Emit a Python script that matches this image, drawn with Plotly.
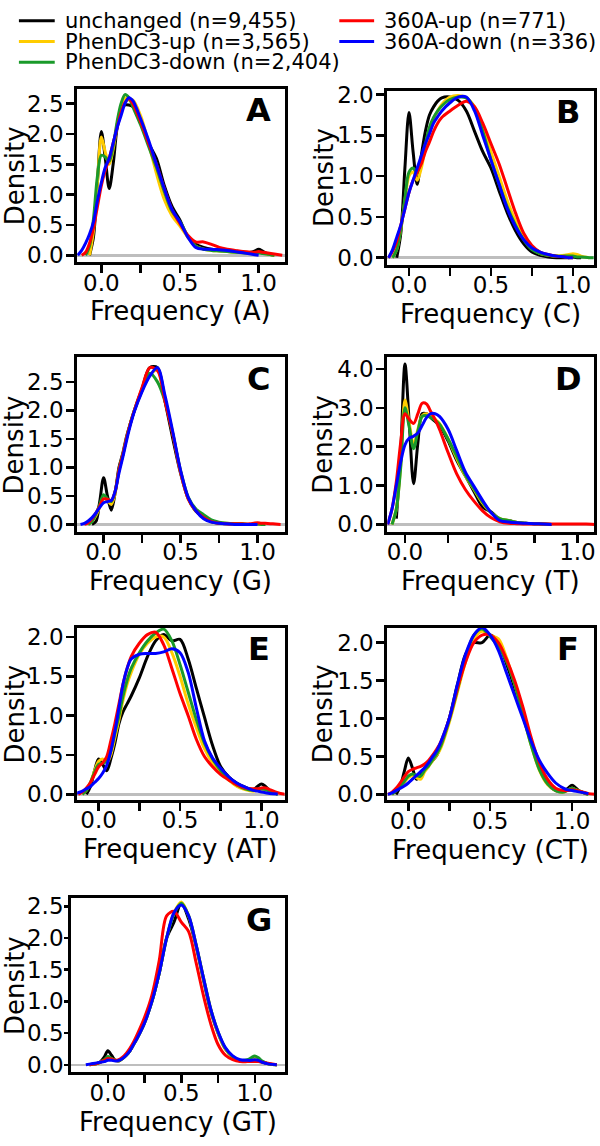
import plotly.graph_objects as go

# ---------------- data ----------------
X = [-0.15, -0.125, -0.1, -0.075, -0.05, -0.025, 0, 0.025, 0.05, 0.075, 0.1, 0.125, 0.15, 0.175, 0.2,
     0.25, 0.3, 0.35, 0.4, 0.45, 0.5, 0.55, 0.6, 0.65, 0.7, 0.75, 0.8, 0.85, 0.9, 0.95, 0.975, 1.0,
     1.025, 1.05, 1.1, 1.15]
N = None

SERIES = ["unchanged (n=9,455)", "PhenDC3-up (n=3,565)", "PhenDC3-down (n=2,404)",
          "360A-up (n=771)", "360A-down (n=336)"]
COLORS = ["#000000", "#FFCC00", "#1A9A2A", "#FF0000", "#0000FF"]

# Panel A: Frequency (A)
A_unchanged = [N, N, N, 0.0, 0.3, 1.2, 2.04, 1.6, 1.1, 1.5, 2.1, 2.4, 2.48, 2.48, 2.45, 2.2, 1.85, 1.6, 1.15, 0.8, 0.58, 0.3, 0.18, 0.13, 0.1, 0.09, 0.08, 0.07, 0.05, 0.05, 0.07, 0.1, 0.07, 0.03, 0.0, N]
A_phen_up = [N, N, N, 0.0, 0.4, 1.2, 1.95, 1.7, 1.5, 1.75, 2.15, 2.45, 2.6, 2.56, 2.56, 2.3, 1.85, 1.35, 0.92, 0.65, 0.48, 0.3, 0.15, 0.1, 0.08, 0.07, 0.06, 0.05, 0.04, 0.03, 0.04, 0.05, 0.04, 0.02, 0.0, N]
A_phen_down = [N, N, 0.0, 0.15, 0.6, 1.3, 1.65, 1.62, 1.55, 1.8, 2.2, 2.5, 2.65, 2.6, 2.45, 2.15, 1.8, 1.45, 1.05, 0.72, 0.55, 0.32, 0.15, 0.1, 0.08, 0.07, 0.06, 0.05, 0.04, 0.03, 0.03, 0.04, 0.03, 0.02, 0.0, N]
A_a360_up = [N, 0.0, 0.05, 0.2, 0.45, 0.8, 1.15, 1.4, 1.6, 1.85, 2.1, 2.35, 2.52, 2.58, 2.5, 2.2, 1.85, 1.5, 1.1, 0.75, 0.52, 0.33, 0.22, 0.22, 0.18, 0.13, 0.1, 0.08, 0.06, 0.05, 0.05, 0.06, 0.05, 0.04, 0.02, 0.0]
A_a360_down = [0.0, 0.08, 0.2, 0.35, 0.55, 0.9, 1.2, 1.45, 1.6, 1.85, 2.1, 2.3, 2.5, 2.6, 2.55, 2.25, 1.9, 1.5, 1.1, 0.75, 0.55, 0.3, 0.13, 0.1, 0.1, 0.09, 0.08, 0.06, 0.04, 0.02, 0.01, 0.0, N, N, N, N]

# Panel B: Frequency (C)
B_unchanged = [N, N, N, 0.0, 0.3, 1.1, 1.78, 1.3, 0.9, 1.25, 1.55, 1.75, 1.85, 1.92, 1.96, 1.97, 1.93, 1.8, 1.55, 1.3, 1.1, 0.82, 0.55, 0.33, 0.17, 0.07, 0.03, 0.01, 0.0, 0.0, 0.0, 0.01, 0.0, 0.0, N, N]
B_phen_up = [N, N, 0.0, 0.1, 0.35, 0.7, 1.0, 1.05, 0.95, 1.1, 1.35, 1.55, 1.7, 1.8, 1.88, 1.97, 1.99, 1.96, 1.85, 1.6, 1.3, 1.0, 0.7, 0.45, 0.25, 0.12, 0.05, 0.03, 0.02, 0.03, 0.04, 0.05, 0.04, 0.02, 0.0, N]
B_phen_down = [N, N, 0.0, 0.1, 0.35, 0.72, 1.05, 1.1, 1.05, 1.2, 1.4, 1.6, 1.72, 1.8, 1.86, 1.94, 1.97, 1.96, 1.83, 1.55, 1.2, 0.9, 0.62, 0.4, 0.22, 0.1, 0.05, 0.03, 0.02, 0.02, 0.02, 0.02, 0.01, 0.01, 0.0, 0.0]
B_a360_up = [N, 0.0, 0.08, 0.2, 0.4, 0.6, 0.8, 0.95, 1.05, 1.15, 1.3, 1.42, 1.55, 1.65, 1.72, 1.8, 1.87, 1.92, 1.85, 1.65, 1.4, 1.15, 0.85, 0.55, 0.3, 0.15, 0.07, 0.04, 0.02, 0.01, 0.0, 0.0, N, N, N, N]
B_a360_down = [N, 0.0, 0.1, 0.25, 0.4, 0.6, 0.8, 0.95, 1.1, 1.25, 1.4, 1.52, 1.65, 1.73, 1.8, 1.9, 1.97, 1.97, 1.8, 1.5, 1.2, 0.9, 0.6, 0.38, 0.22, 0.12, 0.07, 0.04, 0.02, 0.01, 0.0, 0.0, N, N, N, N]

# Panel C: Frequency (G)
C_unchanged = [N, N, N, 0.0, 0.05, 0.4, 0.82, 0.5, 0.25, 0.55, 1.0, 1.25, 1.55, 1.78, 2.0, 2.38, 2.75, 2.75, 2.15, 1.5, 0.9, 0.45, 0.23, 0.12, 0.05, 0.02, 0.01, 0.01, 0.0, 0.0, 0.0, 0.01, 0.0, 0.0, N, N]
C_phen_up = [N, N, 0.0, 0.05, 0.15, 0.3, 0.45, 0.42, 0.35, 0.55, 0.95, 1.22, 1.52, 1.78, 2.0, 2.35, 2.62, 2.7, 2.2, 1.6, 0.92, 0.45, 0.24, 0.13, 0.06, 0.03, 0.02, 0.01, 0.01, 0.0, 0.0, 0.01, 0.0, 0.0, N, N]
C_phen_down = [N, N, 0.0, 0.05, 0.18, 0.35, 0.52, 0.45, 0.4, 0.58, 0.95, 1.22, 1.52, 1.78, 2.0, 2.35, 2.65, 2.5, 2.15, 1.58, 0.95, 0.48, 0.27, 0.17, 0.08, 0.04, 0.02, 0.01, 0.01, 0.0, 0.0, 0.01, 0.0, 0.0, N, N]
C_a360_up = [N, 0.0, 0.03, 0.1, 0.2, 0.32, 0.45, 0.44, 0.42, 0.58, 0.95, 1.22, 1.52, 1.78, 2.0, 2.4, 2.75, 2.7, 2.15, 1.58, 0.92, 0.45, 0.24, 0.12, 0.05, 0.02, 0.01, 0.01, 0.01, 0.01, 0.02, 0.03, 0.02, 0.02, 0.01, 0.0]
C_a360_down = [0.0, 0.02, 0.06, 0.12, 0.2, 0.3, 0.38, 0.4, 0.42, 0.58, 0.9, 1.18, 1.48, 1.75, 1.98, 2.33, 2.6, 2.75, 2.25, 1.62, 0.95, 0.47, 0.24, 0.1, 0.04, 0.02, 0.01, 0.0, 0.0, 0.0, 0.0, 0.0, N, N, N, N]

# Panel D: Frequency (T)
D_unchanged = [N, N, N, N, 0.15, 1.8, 4.13, 2.6, 1.05, 2.1, 2.85, 2.85, 2.75, 2.65, 2.55, 2.15, 1.65, 1.25, 0.85, 0.45, 0.32, 0.13, 0.1, 0.05, 0.03, 0.02, 0.01, 0.0, N, N, N, N, N, N, N, N]
D_phen_up = [N, N, N, 0.0, 0.4, 1.5, 3.2, 2.6, 2.05, 2.45, 2.8, 2.85, 2.78, 2.7, 2.6, 2.2, 1.7, 1.25, 0.9, 0.55, 0.3, 0.15, 0.1, 0.05, 0.03, 0.02, 0.01, 0.0, N, N, N, N, N, N, N, N]
D_phen_down = [N, N, N, 0.0, 0.4, 1.45, 3.0, 2.5, 1.95, 2.4, 2.78, 2.8, 2.75, 2.68, 2.58, 2.2, 1.75, 1.28, 0.92, 0.58, 0.3, 0.15, 0.1, 0.05, 0.03, 0.02, 0.01, 0.0, N, N, N, N, N, N, N, N]
D_a360_up = [N, N, 0.0, 0.4, 1.1, 2.1, 2.85, 2.7, 2.6, 2.85, 3.12, 3.1, 2.9, 2.7, 2.45, 1.85, 1.3, 0.9, 0.6, 0.35, 0.17, 0.07, 0.03, 0.02, 0.01, 0.01, 0.01, 0.01, 0.01, 0.01, 0.01, 0.01, 0.01, 0.01, 0.0, N]
D_a360_down = [N, N, 0.0, 0.4, 1.0, 1.6, 2.05, 2.22, 2.27, 2.35, 2.55, 2.75, 2.85, 2.85, 2.78, 2.45, 1.9, 1.35, 0.98, 0.62, 0.3, 0.1, 0.06, 0.04, 0.03, 0.02, 0.01, 0.0, N, N, N, N, N, N, N, N]

# Panel E: Frequency (AT)
E_unchanged = [N, N, N, 0.0, 0.1, 0.3, 0.45, 0.38, 0.3, 0.45, 0.65, 0.9, 1.05, 1.15, 1.25, 1.48, 1.75, 1.95, 2.03, 1.95, 1.97, 1.72, 1.35, 0.98, 0.62, 0.35, 0.22, 0.14, 0.09, 0.06, 0.1, 0.13, 0.1, 0.05, 0.0, N]
E_phen_up = [N, N, 0.0, 0.05, 0.15, 0.3, 0.42, 0.45, 0.4, 0.5, 0.72, 0.95, 1.2, 1.4, 1.55, 1.78, 1.92, 2.0, 2.0, 1.8, 1.5, 1.15, 0.85, 0.58, 0.4, 0.28, 0.18, 0.1, 0.06, 0.04, 0.05, 0.06, 0.05, 0.03, 0.0, N]
E_phen_down = [N, N, 0.0, 0.05, 0.15, 0.28, 0.38, 0.4, 0.42, 0.55, 0.78, 1.0, 1.25, 1.45, 1.6, 1.8, 1.95, 2.05, 2.1, 1.95, 1.65, 1.3, 0.95, 0.65, 0.45, 0.3, 0.2, 0.12, 0.07, 0.05, 0.06, 0.07, 0.06, 0.04, 0.0, N]
E_a360_up = [N, 0.0, 0.03, 0.08, 0.15, 0.25, 0.35, 0.4, 0.48, 0.68, 0.9, 1.15, 1.4, 1.6, 1.75, 1.92, 2.03, 2.06, 1.9, 1.6, 1.28, 1.0, 0.7, 0.48, 0.35, 0.25, 0.18, 0.12, 0.08, 0.07, 0.07, 0.08, 0.08, 0.06, 0.02, 0.0]
E_a360_down = [0.0, 0.02, 0.04, 0.07, 0.1, 0.15, 0.2, 0.27, 0.37, 0.55, 0.8, 1.1, 1.4, 1.6, 1.72, 1.78, 1.79, 1.79, 1.81, 1.85, 1.8, 1.55, 1.1, 0.68, 0.46, 0.33, 0.22, 0.14, 0.09, 0.05, 0.04, 0.03, 0.02, 0.01, 0.005, N]

# Panel F: Frequency (CT)
F_unchanged = [N, N, N, 0.0, 0.1, 0.3, 0.48, 0.35, 0.2, 0.25, 0.35, 0.4, 0.45, 0.52, 0.65, 1.0, 1.45, 1.85, 2.0, 2.0, 2.1, 2.0, 1.72, 1.4, 1.05, 0.7, 0.38, 0.15, 0.05, 0.04, 0.08, 0.12, 0.08, 0.04, 0.0, N]
F_phen_up = [N, N, 0.0, 0.05, 0.1, 0.16, 0.22, 0.25, 0.22, 0.2, 0.3, 0.37, 0.45, 0.52, 0.62, 0.95, 1.35, 1.75, 2.05, 2.15, 2.1, 2.05, 1.8, 1.45, 1.05, 0.65, 0.32, 0.13, 0.05, 0.03, 0.06, 0.08, 0.06, 0.04, 0.0, N]
F_phen_down = [N, N, 0.0, 0.05, 0.1, 0.17, 0.24, 0.27, 0.25, 0.24, 0.32, 0.38, 0.46, 0.54, 0.65, 0.98, 1.38, 1.8, 2.1, 2.18, 2.08, 1.95, 1.75, 1.45, 1.05, 0.65, 0.33, 0.14, 0.05, 0.03, 0.06, 0.08, 0.06, 0.04, 0.0, N]
F_a360_up = [N, 0.0, 0.03, 0.08, 0.15, 0.23, 0.3, 0.33, 0.35, 0.37, 0.4, 0.45, 0.52, 0.6, 0.7, 1.0, 1.4, 1.75, 2.0, 2.1, 2.1, 2.0, 1.78, 1.5, 1.15, 0.75, 0.42, 0.2, 0.08, 0.05, 0.05, 0.06, 0.05, 0.04, 0.01, 0.0]
F_a360_down = [N, 0.0, 0.02, 0.05, 0.08, 0.11, 0.15, 0.2, 0.25, 0.3, 0.35, 0.42, 0.5, 0.58, 0.7, 1.0, 1.45, 1.85, 2.1, 2.2, 2.1, 1.9, 1.6, 1.3, 1.0, 0.7, 0.45, 0.28, 0.15, 0.08, 0.06, 0.05, 0.04, 0.03, 0.01, N]

# Panel G: Frequency (GT)
G_unchanged = [N, 0.0, 0.01, 0.02, 0.05, 0.12, 0.22, 0.15, 0.07, 0.06, 0.1, 0.15, 0.22, 0.32, 0.42, 0.68, 1.0, 1.45, 2.0, 2.25, 2.55, 2.3, 1.88, 1.35, 0.85, 0.5, 0.25, 0.12, 0.06, 0.06, 0.09, 0.12, 0.1, 0.05, 0.01, 0.0]
G_phen_up = [N, 0.0, 0.01, 0.02, 0.04, 0.07, 0.1, 0.09, 0.07, 0.07, 0.1, 0.15, 0.22, 0.32, 0.42, 0.66, 1.0, 1.45, 2.0, 2.4, 2.57, 2.35, 1.9, 1.38, 0.88, 0.5, 0.25, 0.12, 0.06, 0.06, 0.08, 0.1, 0.08, 0.05, 0.01, 0.0]
G_phen_down = [N, 0.0, 0.01, 0.02, 0.04, 0.08, 0.13, 0.1, 0.07, 0.07, 0.1, 0.15, 0.22, 0.32, 0.42, 0.66, 1.0, 1.45, 2.0, 2.38, 2.55, 2.35, 1.9, 1.38, 0.88, 0.52, 0.26, 0.13, 0.07, 0.08, 0.11, 0.14, 0.11, 0.06, 0.01, 0.0]
G_a360_up = [N, 0.0, 0.01, 0.02, 0.04, 0.07, 0.1, 0.09, 0.07, 0.08, 0.12, 0.18, 0.26, 0.36, 0.48, 0.75, 1.1, 1.65, 2.35, 2.42, 2.25, 2.1, 1.62, 1.1, 0.65, 0.32, 0.15, 0.08, 0.05, 0.05, 0.05, 0.05, 0.05, 0.04, 0.02, 0.0]
G_a360_down = [0.0, 0.01, 0.02, 0.03, 0.04, 0.05, 0.07, 0.07, 0.06, 0.07, 0.1, 0.15, 0.22, 0.32, 0.42, 0.66, 1.0, 1.45, 2.0, 2.4, 2.52, 2.35, 1.9, 1.38, 0.88, 0.52, 0.27, 0.14, 0.08, 0.07, 0.07, 0.08, 0.07, 0.04, 0.01, 0.0]

LETTERS = ["A", "B", "C", "D", "E", "F", "G"]
XLABELS = ["Frequency (A)", "Frequency (C)", "Frequency (G)", "Frequency (T)",
           "Frequency (AT)", "Frequency (CT)", "Frequency (GT)"]
PANEL_DATA = [
    [A_unchanged, A_phen_up, A_phen_down, A_a360_up, A_a360_down],
    [B_unchanged, B_phen_up, B_phen_down, B_a360_up, B_a360_down],
    [C_unchanged, C_phen_up, C_phen_down, C_a360_up, C_a360_down],
    [D_unchanged, D_phen_up, D_phen_down, D_a360_up, D_a360_down],
    [E_unchanged, E_phen_up, E_phen_down, E_a360_up, E_a360_down],
    [F_unchanged, F_phen_up, F_phen_down, F_a360_up, F_a360_down],
    [G_unchanged, G_phen_up, G_phen_down, G_a360_up, G_a360_down],
]
X_TICKS = [0, 0.25, 0.5, 0.75, 1.0]
X_TICKTEXT = ["0.0", "", "0.5", "", "1.0"]
Y_TICKS = [
    [0, 0.5, 1.0, 1.5, 2.0, 2.5],
    [0, 0.5, 1.0, 1.5, 2.0],
    [0, 0.5, 1.0, 1.5, 2.0, 2.5],
    [0, 1.0, 2.0, 3.0, 4.0],
    [0, 0.5, 1.0, 1.5, 2.0],
    [0, 0.5, 1.0, 1.5, 2.0],
    [0, 0.5, 1.0, 1.5, 2.0, 2.5],
]

# ---------------- layout geometry (pixels) ----------------
W, H = 600, 1146
# (left, right, top, bottom) of each plot box
BOXES = [
    (76.5, 285, 80.7, 256.5),
    (388.3, 595.5, 82.7, 259.3),
    (76.5, 285, 353.3, 530),
    (388.3, 596, 353.3, 530),
    (76.5, 285, 627.3, 802),
    (388.3, 596, 627.3, 802.5),
    (70.5, 285, 901.7, 1078.3),
]
X_RANGES = [(-0.154, 1.165), (-0.132, 1.126), (-0.172, 1.176), (-0.102, 1.096),
            (-0.132, 1.142), (-0.128, 1.134), (-0.250, 1.203)]
Y_RANGES = [(-0.11, 2.75), (-0.085, 2.05), (-0.126, 2.93), (-0.185, 4.3),
            (-0.07, 2.12), (-0.078, 2.2), (-0.118, 2.63)]
Y_TICKLEN = [8, 8, 8, 8, 8, 8, 4]
Y_STANDOFF = [-2, -2, -2, -2, -2, -2, -4]

FONT = "DejaVu Sans"


def px(x):
    return x / W


def py(y):
    return 1 - y / H


fig = go.Figure()
layout = dict(
    width=W, height=H, margin=dict(l=0, r=0, t=0, b=0),
    paper_bgcolor="white", plot_bgcolor="white", showlegend=False,
    font=dict(family=FONT, color="black", size=23),
)
annotations = []
shapes = []

for i in range(7):
    k = "" if i == 0 else str(i + 1)
    l, r, t, b = BOXES[i]
    for j in range(5):
        fig.add_trace(go.Scatter(
            x=X, y=PANEL_DATA[i][j], mode="lines", name=SERIES[j],
            line=dict(color=COLORS[j], width=3, shape="spline", smoothing=0.9),
            xaxis="x" + k, yaxis="y" + k, connectgaps=False, hoverinfo="skip",
        ))
    layout["xaxis" + k] = dict(
        domain=[px(l), px(r)], range=list(X_RANGES[i]), anchor="y" + k,
        showgrid=False, zeroline=False, showline=True, mirror=True,
        linecolor="black", linewidth=3, ticks="outside", ticklen=8, tickwidth=2.5,
        tickcolor="black", tickvals=X_TICKS, ticktext=X_TICKTEXT,
        ticklabelstandoff=-10,
        tickfont=dict(family=FONT, size=23, color="black"), fixedrange=True,
    )
    layout["yaxis" + k] = dict(
        domain=[py(b), py(t)], range=list(Y_RANGES[i]), anchor="x" + k,
        showgrid=False, zeroline=True, zerolinecolor="#BEBEBE", zerolinewidth=2.5,
        showline=True, mirror=True, linecolor="black", linewidth=3,
        ticks="outside", ticklen=Y_TICKLEN[i], tickwidth=2.5, tickcolor="black",
        tickvals=Y_TICKS[i], tickformat=".1f", ticklabelstandoff=Y_STANDOFF[i],
        tickfont=dict(family=FONT, size=23, color="black"), fixedrange=True,
    )
    # panel letter
    annotations.append(dict(
        text="<b>%s</b>" % LETTERS[i], xref="paper", yref="paper",
        x=px(r - 26), y=py(t + 22), xanchor="center", yanchor="middle",
        showarrow=False, font=dict(family=FONT, size=32, color="black"),
    ))
    # x-axis title
    annotations.append(dict(
        text=XLABELS[i], xref="paper", yref="paper",
        x=px((l + r) / 2), y=py(b + 50), xanchor="center", yanchor="middle",
        showarrow=False, font=dict(family=FONT, size=26, color="black"),
    ))
    # y-axis title
    ylx = 14 if l < 200 else 324
    annotations.append(dict(
        text="Density", xref="paper", yref="paper", textangle=-90,
        x=px(ylx), y=py((t + b) / 2), xanchor="center", yanchor="middle",
        showarrow=False, font=dict(family=FONT, size=26, color="black"),
    ))

# legend (two columns)
LEG_POS = [(18, 54, 62, 12), (18, 54, 62, 33), (18, 54, 62, 54),
           (340, 375, 383, 12), (340, 375, 383, 33)]
for j in range(5):
    x0, x1, tx, yy = LEG_POS[j]
    shapes.append(dict(type="line", xref="paper", yref="paper",
                       x0=px(x0), x1=px(x1), y0=py(yy), y1=py(yy),
                       line=dict(color=COLORS[j], width=3)))
    annotations.append(dict(
        text=SERIES[j], xref="paper", yref="paper", x=px(tx), y=py(yy),
        xanchor="left", yanchor="middle", showarrow=False,
        font=dict(family=FONT, size=21, color="black"),
    ))

layout["annotations"] = annotations
layout["shapes"] = shapes
fig.update_layout(**layout)
fig.write_html(
    "out.html",
    config={"displayModeBar": False, "staticPlot": True},
    post_script="document.body.style.margin='0';document.body.style.overflow='hidden';",
)
